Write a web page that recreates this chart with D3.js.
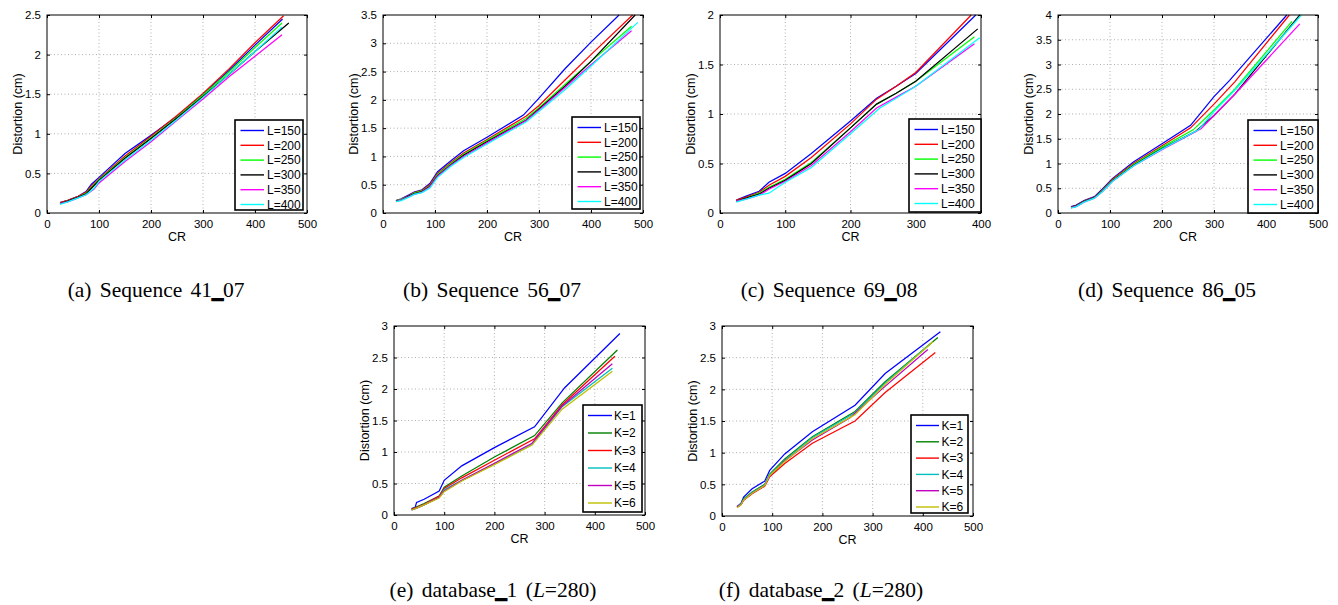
<!DOCTYPE html>
<html lang="en">
<head>
    <meta charset="UTF-8">
    <title>Distortion vs CR</title>
    <script src="https://d3js.org/d3.v7.min.js"></script>
    <style>
        body { margin: 0; background: #fff; }
        svg { display: block; }
        .tick text { font-family: "Liberation Sans", Arial, sans-serif; font-size: 11.5px; fill: #000; }
        .lab { font-family: "Liberation Sans", Arial, sans-serif; font-size: 12.5px; fill: #000; }
        .cap { font-family: "Liberation Serif", "Times New Roman", serif; font-size: 21.5px; fill: #000; }
    </style>
    <script>

        // legend labels and colours
        const legendL = ["L=150", "L=200", "L=250", "L=300", "L=350", "L=400"];
        const legendK = ["K=1", "K=2", "K=3", "K=4", "K=5", "K=6"];
        const colorsL = ["#0000ff", "#ff0000", "#00ff00", "#000000", "#ff00ff", "#00ffff"];
        const colorsK = ["#0000ff", "#008000", "#ff0000", "#00bfbf", "#bf00bf", "#bfbf00"];

        // (a) Sequence 41_07 : [CR, distortion] per L
        const seq41_07 = [
            [[25,0.13],[40,0.16],[60,0.21],[75,0.27],[85,0.36],[100,0.45],[150,0.75],[200,0.98],[250,1.22],[300,1.50],[350,1.80],[400,2.12],[453,2.45]],
            [[25,0.13],[40,0.16],[60,0.21],[75,0.26],[85,0.34],[100,0.43],[150,0.72],[200,0.97],[250,1.23],[300,1.51],[350,1.82],[400,2.15],[455,2.49]],
            [[25,0.12],[40,0.15],[60,0.20],[75,0.25],[85,0.32],[100,0.42],[150,0.70],[200,0.95],[250,1.21],[300,1.49],[350,1.78],[400,2.09],[452,2.40]],
            [[25,0.12],[40,0.15],[60,0.20],[75,0.24],[85,0.31],[100,0.41],[150,0.69],[200,0.94],[250,1.20],[300,1.47],[350,1.75],[400,2.04],[465,2.40]],
            [[25,0.12],[40,0.14],[60,0.19],[75,0.23],[90,0.30],[100,0.38],[150,0.65],[200,0.90],[250,1.17],[300,1.44],[350,1.72],[400,1.98],[452,2.25]],
            [[25,0.11],[40,0.14],[60,0.19],[75,0.23],[90,0.31],[100,0.40],[150,0.67],[200,0.92],[250,1.18],[300,1.46],[350,1.75],[400,2.04],[452,2.35]]
        ];

        // (b) Sequence 56_07
        const seq56_07 = [
            [[25,0.22],[35,0.25],[50,0.32],[60,0.37],[75,0.41],[90,0.52],[105,0.73],[130,0.92],[155,1.10],[200,1.34],[270,1.73],[300,2.03],[350,2.55],[400,3.02],[454,3.50]],
            [[25,0.22],[35,0.24],[50,0.31],[60,0.36],[75,0.40],[90,0.50],[105,0.70],[130,0.89],[155,1.06],[200,1.30],[275,1.71],[300,1.90],[350,2.35],[400,2.80],[480,3.50]],
            [[25,0.21],[35,0.24],[50,0.30],[60,0.35],[75,0.39],[90,0.48],[105,0.68],[130,0.87],[155,1.04],[200,1.28],[275,1.67],[300,1.86],[350,2.27],[400,2.68],[478,3.30]],
            [[25,0.21],[35,0.23],[50,0.30],[60,0.34],[75,0.38],[90,0.47],[105,0.66],[130,0.85],[155,1.02],[200,1.26],[275,1.64],[300,1.84],[350,2.24],[400,2.68],[485,3.50]],
            [[25,0.20],[35,0.23],[50,0.29],[60,0.33],[75,0.37],[90,0.46],[105,0.65],[130,0.84],[155,1.00],[200,1.24],[275,1.63],[300,1.82],[350,2.22],[400,2.62],[478,3.22]],
            [[25,0.20],[35,0.22],[50,0.28],[60,0.33],[75,0.36],[90,0.44],[105,0.63],[130,0.82],[155,0.98],[200,1.22],[275,1.61],[300,1.80],[350,2.18],[400,2.60],[490,3.37]]
        ];

        // (c) Sequence 69_08
        const seq69_08 = [
            [[25,0.13],[40,0.17],[60,0.22],[75,0.31],[100,0.40],[140,0.60],[200,0.93],[240,1.16],[270,1.28],[300,1.41],[392,2.00]],
            [[25,0.13],[40,0.16],[60,0.21],[75,0.28],[100,0.37],[140,0.56],[200,0.90],[240,1.15],[270,1.28],[300,1.42],[385,2.00]],
            [[25,0.12],[40,0.15],[60,0.20],[75,0.26],[100,0.34],[140,0.51],[200,0.86],[240,1.10],[270,1.21],[300,1.33],[390,1.78]],
            [[25,0.12],[40,0.15],[60,0.19],[75,0.25],[100,0.33],[140,0.50],[200,0.86],[240,1.10],[270,1.21],[300,1.33],[395,1.86]],
            [[25,0.12],[40,0.14],[60,0.18],[75,0.24],[100,0.32],[140,0.48],[200,0.82],[240,1.06],[270,1.17],[300,1.28],[390,1.71]],
            [[25,0.11],[40,0.14],[60,0.18],[75,0.20],[100,0.31],[140,0.46],[200,0.80],[245,1.06],[270,1.16],[300,1.28],[398,1.77]]
        ];

        // (d) Sequence 86_05
        const seq86_05 = [
            [[25,0.13],[35,0.16],[50,0.25],[70,0.33],[85,0.48],[105,0.70],[145,1.03],[200,1.40],[255,1.77],[300,2.35],[330,2.68],[440,4.00]],
            [[25,0.12],[35,0.15],[50,0.24],[70,0.32],[85,0.46],[105,0.68],[145,1.00],[200,1.36],[255,1.72],[300,2.20],[340,2.65],[445,4.00]],
            [[25,0.11],[35,0.14],[50,0.23],[70,0.31],[85,0.45],[105,0.66],[145,0.98],[200,1.33],[260,1.68],[300,2.08],[340,2.50],[450,3.87]],
            [[25,0.11],[35,0.14],[50,0.23],[70,0.31],[85,0.44],[105,0.65],[145,0.96],[200,1.30],[265,1.65],[300,1.97],[340,2.40],[465,4.00]],
            [[25,0.11],[35,0.13],[50,0.22],[70,0.30],[85,0.43],[105,0.64],[145,0.95],[200,1.28],[275,1.70],[300,1.97],[340,2.40],[465,3.82]],
            [[25,0.10],[35,0.13],[50,0.22],[70,0.30],[85,0.43],[105,0.64],[145,0.95],[200,1.29],[270,1.68],[300,2.05],[340,2.48],[468,4.00]]
        ];

        // (e) database_1 (L=280) : per K
        const database1 = [
            [[35,0.10],[42,0.12],[45,0.20],[60,0.25],[90,0.38],[100,0.55],[135,0.78],[200,1.07],[280,1.40],[340,2.02],[450,2.88]],
            [[35,0.09],[45,0.13],[60,0.18],[90,0.30],[100,0.44],[135,0.62],[200,0.92],[280,1.26],[335,1.78],[445,2.62]],
            [[35,0.09],[45,0.12],[60,0.17],[90,0.30],[100,0.42],[135,0.59],[200,0.87],[280,1.21],[335,1.75],[440,2.52]],
            [[35,0.08],[45,0.11],[60,0.16],[90,0.28],[100,0.40],[135,0.55],[200,0.81],[275,1.12],[335,1.72],[435,2.33]],
            [[35,0.08],[45,0.11],[60,0.16],[90,0.28],[100,0.38],[135,0.55],[200,0.82],[275,1.14],[335,1.73],[435,2.40]],
            [[35,0.08],[45,0.11],[60,0.16],[90,0.27],[100,0.37],[135,0.54],[200,0.80],[275,1.11],[335,1.68],[435,2.28]]
        ];

        // (f) database_2 (L=280)
        const database2 = [
            [[30,0.15],[38,0.20],[43,0.30],[60,0.43],[85,0.55],[95,0.72],[125,0.98],[180,1.33],[265,1.75],[325,2.25],[435,2.91]],
            [[30,0.14],[38,0.19],[43,0.27],[60,0.38],[85,0.50],[95,0.66],[125,0.90],[180,1.25],[265,1.65],[325,2.12],[430,2.82]],
            [[30,0.14],[38,0.18],[43,0.25],[60,0.35],[85,0.47],[95,0.62],[125,0.83],[180,1.15],[265,1.50],[325,1.95],[425,2.58]],
            [[30,0.14],[38,0.19],[43,0.26],[60,0.37],[85,0.49],[95,0.65],[125,0.88],[180,1.24],[265,1.63],[325,2.10],[415,2.72]],
            [[30,0.14],[38,0.18],[43,0.25],[60,0.36],[85,0.48],[95,0.63],[125,0.87],[180,1.20],[255,1.55],[315,1.98],[410,2.63]],
            [[30,0.13],[38,0.18],[43,0.25],[60,0.36],[85,0.48],[95,0.64],[125,0.86],[180,1.22],[265,1.60],[325,2.08],[420,2.75]]
        ];

        const xTicks500 = [0, 100, 200, 300, 400, 500];
        const xTicks400 = [0, 100, 200, 300, 400];

        document.addEventListener("DOMContentLoaded", () => makeGraph());

        function makeGraph() {

            const svg = d3.select("svg").attr("width", 1338).attr("height", 605);

            const panels = [
                {data: seq41_07, names: legendL, colors: colorsL, left: 47, top: 15, w: 260, h: 198, xMax: 500, yMax: 2.5, xt: xTicks500,
                    leg: {x: 235, y: 120, w: 68, h: 90, row: 14.8, l0: 5.5, l1: 29, t: 32},
                    cap: {x: 156, y: 297, parts: [["(a) Sequence 41"], ["_", "u"], ["07"]]}},
                {data: seq56_07, names: legendL, colors: colorsL, left: 383, top: 15, w: 260, h: 198, xMax: 500, yMax: 3.5, xt: xTicks500,
                    leg: {x: 572, y: 117, w: 68, h: 92, row: 14.8, l0: 5.5, l1: 29, t: 32},
                    cap: {x: 492, y: 297, parts: [["(b) Sequence 56"], ["_", "u"], ["07"]]}},
                {data: seq69_08, names: legendL, colors: colorsL, left: 720, top: 15, w: 261, h: 198, xMax: 400, yMax: 2, xt: xTicks400,
                    leg: {x: 909, y: 119, w: 72, h: 93, row: 14.8, l0: 5.5, l1: 29, t: 32},
                    cap: {x: 829, y: 297, parts: [["(c) Sequence 69"], ["_", "u"], ["08"]]}},
                {data: seq86_05, names: legendL, colors: colorsL, left: 1058, top: 15, w: 260, h: 198, xMax: 500, yMax: 4, xt: xTicks500,
                    leg: {x: 1248, y: 120, w: 70, h: 93, row: 14.8, l0: 5.5, l1: 29, t: 32},
                    cap: {x: 1167, y: 297, parts: [["(d) Sequence 86"], ["_", "u"], ["05"]]}},
                {data: database1, names: legendK, colors: colorsK, left: 394, top: 326, w: 251, h: 189, xMax: 500, yMax: 3, xt: xTicks500,
                    leg: {x: 583, y: 405, w: 59, h: 107, row: 17.5, l0: 5, l1: 29, t: 31},
                    cap: {x: 493, y: 597, parts: [["(e) database"], ["_", "u"], ["1 ("], ["L", "i"], ["=280)"]]}},
                {data: database2, names: legendK, colors: colorsK, left: 722, top: 326, w: 251, h: 190, xMax: 500, yMax: 3, xt: xTicks500,
                    leg: {x: 911, y: 415, w: 57, h: 98, row: 16.3, l0: 5, l1: 28, t: 30.5},
                    cap: {x: 821, y: 597, parts: [["(f) database"], ["_", "u"], ["2 ("], ["L", "i"], ["=280)"]]}}
            ];

            panels.forEach(p => drawPanel(svg, p));
        }

        function drawPanel(svg, p) {
            const g = svg.append("g").attr("transform", "translate(" + p.left + "," + p.top + ")");

            const x = d3.scaleLinear().domain([0, p.xMax]).range([0, p.w]);
            const y = d3.scaleLinear().domain([0, p.yMax]).range([p.h, 0]);
            const yt = d3.range(0, p.yMax + 0.001, 0.5);
            const fmt = d => d3.format(".1~f")(d);

            // dotted grid
            g.append("g").selectAll("line").data(p.xt.slice(1, -1)).join("line")
                .attr("x1", d => x(d)).attr("x2", d => x(d)).attr("y1", 0).attr("y2", p.h)
                .attr("stroke", "#9a9a9a").attr("stroke-width", 0.8).attr("stroke-dasharray", "1,2.5");
            g.append("g").selectAll("line").data(yt.slice(1, -1)).join("line")
                .attr("y1", d => y(d)).attr("y2", d => y(d)).attr("x1", 0).attr("x2", p.w)
                .attr("stroke", "#9a9a9a").attr("stroke-width", 0.8).attr("stroke-dasharray", "1,2.5");

            // axes, ticks inward, mirrored
            const ax = g.append("g").attr("transform", "translate(0," + p.h + ")")
                .call(d3.axisBottom(x).tickValues(p.xt).tickFormat(fmt).tickSizeInner(-3).tickSizeOuter(0).tickPadding(6));
            g.append("g")
                .call(d3.axisLeft(y).tickValues(yt).tickFormat(fmt).tickSizeInner(-3).tickSizeOuter(0).tickPadding(6));
            g.append("g").call(d3.axisTop(x).tickValues(p.xt).tickFormat("").tickSizeInner(-3).tickSizeOuter(0));
            g.append("g").attr("transform", "translate(" + p.w + ",0)")
                .call(d3.axisRight(y).tickValues(yt).tickFormat("").tickSizeInner(-3).tickSizeOuter(0));
            g.selectAll(".domain").remove();
            g.selectAll(".tick line").attr("stroke", "#000");
            ax.selectAll(".tick text").attr("dy", "0.8em");

            // series
            const line = d3.line().x(d => x(d[0])).y(d => y(d[1]));
            g.append("g").selectAll("path").data(p.data).join("path")
                .attr("fill", "none")
                .attr("stroke", (d, i) => p.colors[i])
                .attr("stroke-width", 1.25)
                .attr("d", line);

            // box
            g.append("rect").attr("width", p.w).attr("height", p.h)
                .attr("fill", "none").attr("stroke", "#000").attr("stroke-width", 1);

            // axis labels
            g.append("text").attr("class", "lab").attr("text-anchor", "middle")
                .attr("x", p.w / 2).attr("y", p.h + 28).text("CR");
            g.append("text").attr("class", "lab").attr("text-anchor", "middle")
                .attr("transform", "translate(-29," + (p.h / 2) + ") rotate(-90)")
                .attr("dy", "0.35em").text("Distortion (cm)");

            // legend
            const L = p.leg;
            const lg = svg.append("g").attr("transform", "translate(" + L.x + "," + L.y + ")");
            lg.append("rect").attr("width", L.w).attr("height", L.h)
                .attr("fill", "#fff").attr("stroke", "#000").attr("stroke-width", 1.6);
            p.names.forEach((name, i) => {
                const cy = 10.5 + i * L.row;
                lg.append("line").attr("x1", L.l0).attr("x2", L.l1).attr("y1", cy).attr("y2", cy)
                    .attr("stroke", p.colors[i]).attr("stroke-width", 1.4);
                lg.append("text").attr("class", "lab").attr("x", L.t).attr("y", cy).attr("dy", "0.36em")
                    .style("font-size", "12px").text(name);
            });

            // caption
            const c = svg.append("text").attr("class", "cap").attr("text-anchor", "middle")
                .attr("x", p.cap.x).attr("y", p.cap.y).attr("word-spacing", "3px");
            p.cap.parts.forEach(part => {
                const t = c.append("tspan").text(part[0]);
                if (part[1] === "u") t.attr("font-weight", "bold").attr("stroke", "#000").attr("stroke-width", 1.6);
                if (part[1] === "i") t.attr("font-style", "italic");
            });
        }

    </script>
</head>
<body>
    <svg id="graph"></svg>
</body>
</html>
